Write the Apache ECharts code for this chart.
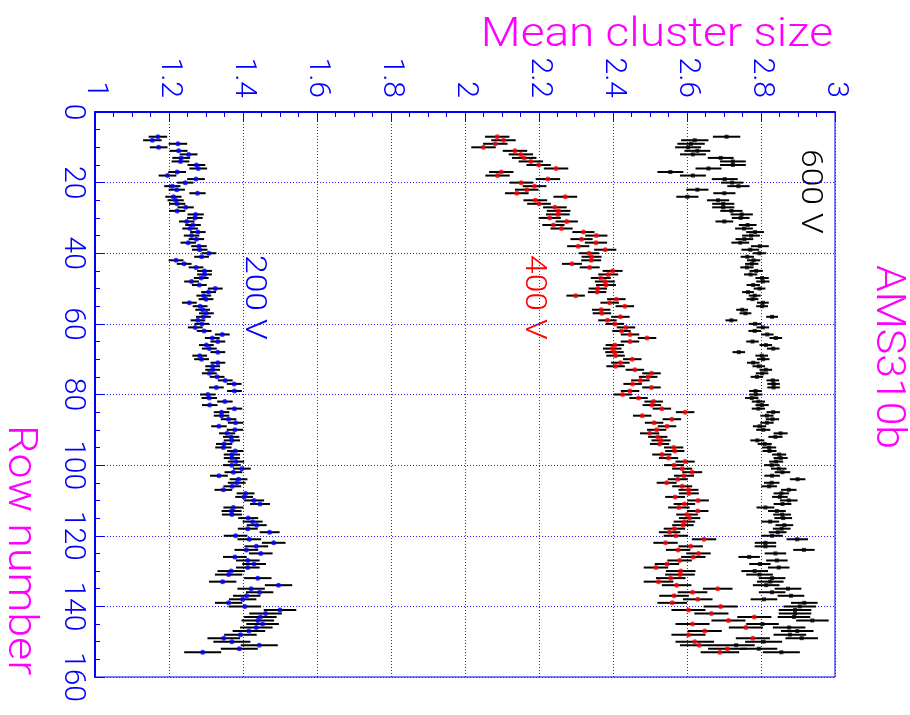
<!DOCTYPE html>
<html>
<head>
<meta charset="utf-8">
<script src="https://cdn.jsdelivr.net/npm/echarts@6/dist/echarts.min.js"></script>
<style>
  html, body { margin: 0; padding: 0; background: #ffffff; }
  #chart { width: 910px; height: 715px; }
</style>
</head>
<body>
<div id="chart"></div>
<script>
// Mean cluster size per pixel row of sensor AMS310b, one value per row from firstRow on.
const firstRow = 7;

const mean200 = [
  1.170,1.155,1.224,1.172,1.226,1.253,1.233,1.231,1.274,1.279,
  1.222,1.196,1.273,1.244,1.209,1.221,1.277,1.212,1.218,1.222,
  1.245,1.222,1.272,1.270,1.248,1.265,1.257,1.278,1.261,1.274,
  1.252,1.281,1.283,1.308,1.288,1.219,1.241,1.273,1.296,1.296,
  1.287,1.261,1.282,1.325,1.307,1.294,1.300,1.255,1.284,1.291,
  1.301,1.293,
  1.278,1.289,1.271,1.295,1.344,1.317,1.332,1.301,1.309,1.332,
  1.283,1.288,1.332,1.318,1.318,1.309,1.330,1.352,1.376,1.328,
  1.377,1.305,1.309,1.351,1.310,1.377,1.342,1.342,1.361,1.380,
  1.335,1.378,1.357,1.368,1.370,1.349,1.347,1.379,1.370,1.370,
  1.381,1.370,1.397,1.374,1.335,1.388,1.383,1.371,1.347,1.407,
  1.403,1.430,1.446,1.374,1.369,1.370,1.414,1.426,1.437,1.413,
  1.472,1.380,1.417,1.483,1.436,1.409,1.448,1.378,1.413,1.430,
  1.413,1.368,1.361,1.440,1.345,1.496,1.422,1.445,1.410,1.399,
  1.361,1.405,1.500,1.461,1.447,1.440,1.453,1.436,1.416,1.393,
  1.348,1.370,1.444,1.390,1.291
];

const mean400 = [
  2.087,2.104,2.082,2.050,2.135,2.151,2.160,2.178,2.199,2.246,
  2.098,2.088,2.224,2.152,2.188,2.167,2.140,2.271,2.190,2.200,
  2.243,2.253,2.251,2.229,2.275,2.239,2.261,2.320,2.355,2.315,
  2.354,2.306,2.379,2.335,2.342,2.341,2.289,2.337,2.399,2.387,
  2.367,2.378,2.381,2.359,2.357,2.299,2.409,2.391,2.432,2.368,
  2.370,2.420,
  2.385,2.405,2.435,2.423,2.446,2.492,2.446,2.405,2.398,2.404,
  2.407,2.452,2.420,2.407,2.459,2.504,2.495,2.474,2.453,2.504,
  2.446,2.426,2.469,2.510,2.505,2.532,2.595,2.479,2.559,2.511,
  2.546,2.518,2.499,2.521,2.530,2.526,2.564,2.567,2.532,2.550,
  2.595,2.565,2.587,2.614,2.592,2.575,2.545,2.587,2.604,2.605,
  2.568,2.630,2.593,2.578,2.629,2.600,2.607,2.593,2.589,2.566,
  2.553,2.570,2.646,2.542,2.610,2.576,2.631,2.617,2.580,2.546,
  2.516,2.583,2.581,2.556,2.523,2.572,2.683,2.615,2.565,2.629,
  2.560,2.691,2.604,2.666,2.782,2.712,2.615,2.759,2.648,2.604,
  2.778,2.621,2.633,2.709,2.689
];

const mean600 = [
  2.707,2.621,2.611,2.603,2.628,2.616,2.691,2.724,2.724,2.658,
  2.555,2.616,2.702,2.722,2.739,2.628,2.701,2.601,2.684,2.698,
  2.698,2.720,2.748,2.745,2.701,2.764,2.754,2.784,2.773,2.755,
  2.744,2.797,2.771,2.796,2.763,2.780,2.775,2.762,2.787,2.772,
  2.803,2.805,2.779,2.796,2.765,2.783,2.777,2.805,2.803,2.749,
  2.758,2.830,
  2.720,2.784,2.805,2.783,2.817,2.840,2.777,2.813,2.833,2.740,
  2.802,2.806,2.779,2.794,2.813,2.803,2.789,2.832,2.834,2.834,
  2.785,2.786,2.775,2.793,2.803,2.793,2.833,2.816,2.831,2.816,
  2.796,2.806,2.853,2.839,2.790,2.810,2.822,2.823,2.849,2.853,
  2.841,2.829,2.848,2.858,2.830,2.899,2.829,2.822,2.875,2.855,
  2.851,2.875,2.858,2.812,2.843,2.857,2.860,2.825,2.863,2.856,
  2.845,2.830,2.898,2.812,2.812,2.916,2.839,2.768,2.843,2.797,
  2.848,2.783,2.796,2.830,2.825,2.814,2.873,2.830,2.881,2.808,
  2.917,2.905,2.892,2.892,2.889,2.939,2.804,2.876,2.898,2.878,
  2.910,2.807,2.733,2.794,2.855
];

// Half-width of the error on the mean, one entry per block of ten rows (0-9, 10-19, ...).
const err200 = [0.025,0.024,0.022,0.021,0.020,0.020,0.020,0.020,0.021,0.022,0.024,0.027,0.032,0.037,0.044,0.050];
const err400 = [0.033,0.033,0.032,0.030,0.027,0.025,0.025,0.025,0.025,0.026,0.027,0.029,0.033,0.040,0.046,0.052];
const err600 = [0.037,0.035,0.030,0.024,0.018,0.016,0.017,0.017,0.018,0.019,0.021,0.024,0.029,0.036,0.044,0.050];

const meanTicks = ['1','1.2','1.4','1.6','1.8','2','2.2','2.4','2.6','2.8','3'];
const rowTicks = ['0','20','40','60','80','100','120','140','160'];

const BLUE = '#0000ff';
const MAGENTA = '#ff00ff';
const FONT = 'Roboto';

function toPoints(values, errs) {
  return values.map(function (v, i) {
    const row = firstRow + i;
    return [v, row, errs[Math.floor(row / 10)]];
  });
}

// Horizontal error bar from mean - err to mean + err on the row of the point.
function errorBar(params, api) {
  const v = api.value(0), r = api.value(1), e = api.value(2);
  const a = api.coord([v - e, r]);
  const b = api.coord([v + e, r]);
  return {
    type: 'line',
    shape: { x1: a[0], y1: a[1], x2: b[0], y2: b[1] },
    style: { stroke: '#000000', lineWidth: 2 }
  };
}

const sets = [
  { name: '200 V', data: toPoints(mean200, err200), color: BLUE, size: 5, symbol: 'circle' },
  { name: '400 V', data: toPoints(mean400, err400), color: '#ff0000', size: 5, symbol: 'circle' },
  { name: '600 V', data: toPoints(mean600, err600), color: '#000000', size: 4, symbol: 'rect' }
];

const series = [];
sets.forEach(function (s) {
  series.push({
    type: 'custom', name: s.name + ' err', data: s.data,
    encode: { x: 0, y: 1 }, renderItem: errorBar, z: 2, silent: true
  });
});
sets.forEach(function (s) {
  series.push({
    type: 'scatter', name: s.name, data: s.data,
    encode: { x: 0, y: 1 }, symbol: s.symbol, symbolSize: s.size,
    itemStyle: { color: s.color }, z: 3, silent: true
  });
});

const labelStyle = { color: BLUE, fontFamily: FONT, fontWeight: 300, fontSize: 30 };
const gridDots = { color: '#2020ff', type: [1, 2], width: 1 };

function rotatedText(text, x, y, size, color, stretch) {
  return {
    type: 'text', x: x, y: y, rotation: -Math.PI / 2, scaleX: stretch,
    style: { text: text, fill: color, fontFamily: FONT, fontWeight: 300, fontSize: size, align: 'left', verticalAlign: 'middle' }
  };
}

const option = {
  animation: false,
  backgroundColor: '#ffffff',
  grid: {
    left: 95, right: 75, top: 112, bottom: 38,
    show: true, borderColor: BLUE, borderWidth: 1, backgroundColor: 'transparent'
  },
  xAxis: {
    type: 'value', position: 'top', min: 1, max: 3, interval: 0.2,
    axisLine: { lineStyle: { color: BLUE, width: 2 } },
    axisTick: { inside: true, length: 10, lineStyle: { color: BLUE } },
    minorTick: { show: true, splitNumber: 4, length: 5, lineStyle: { color: BLUE } },
    splitLine: { show: true, lineStyle: gridDots },
    axisLabel: Object.assign({
      rotate: -90, margin: 14,
      formatter: function (v) { return meanTicks[Math.round((v - 1) / 0.2)]; }
    }, labelStyle)
  },
  yAxis: {
    type: 'value', inverse: true, min: 0, max: 160, interval: 20,
    axisLine: { lineStyle: { color: BLUE, width: 2 } },
    axisTick: { inside: true, length: 10, lineStyle: { color: BLUE } },
    minorTick: { show: true, splitNumber: 4, length: 5, lineStyle: { color: BLUE } },
    splitLine: { show: true, lineStyle: gridDots },
    axisLabel: Object.assign({
      rotate: -90, margin: 8,
      formatter: function (v) { return rowTicks[Math.round(v / 20)]; }
    }, labelStyle)
  },
  graphic: [
    { type: 'text', x: 833, y: 36, scaleX: 1.15,
      style: { text: 'Mean cluster size', fill: MAGENTA, fontFamily: FONT, fontWeight: 300, fontSize: 40, align: 'right', verticalAlign: 'middle' } },
    rotatedText('Row number', 19, 425, 40, MAGENTA, 1.12),
    rotatedText('AMS310b', 887, 265, 40, MAGENTA, 1.07),
    rotatedText('600 V', 809, 149, 30, '#000000', 1.12),
    rotatedText('400 V', 533, 255, 30, '#ff0000', 1.12),
    rotatedText('200 V', 253, 255, 30, BLUE, 1.12)
  ],
  series: series
};

const chart = echarts.init(document.getElementById('chart'), null, { renderer: 'canvas' });
chart.setOption(option);
</script>
</body>
</html>
